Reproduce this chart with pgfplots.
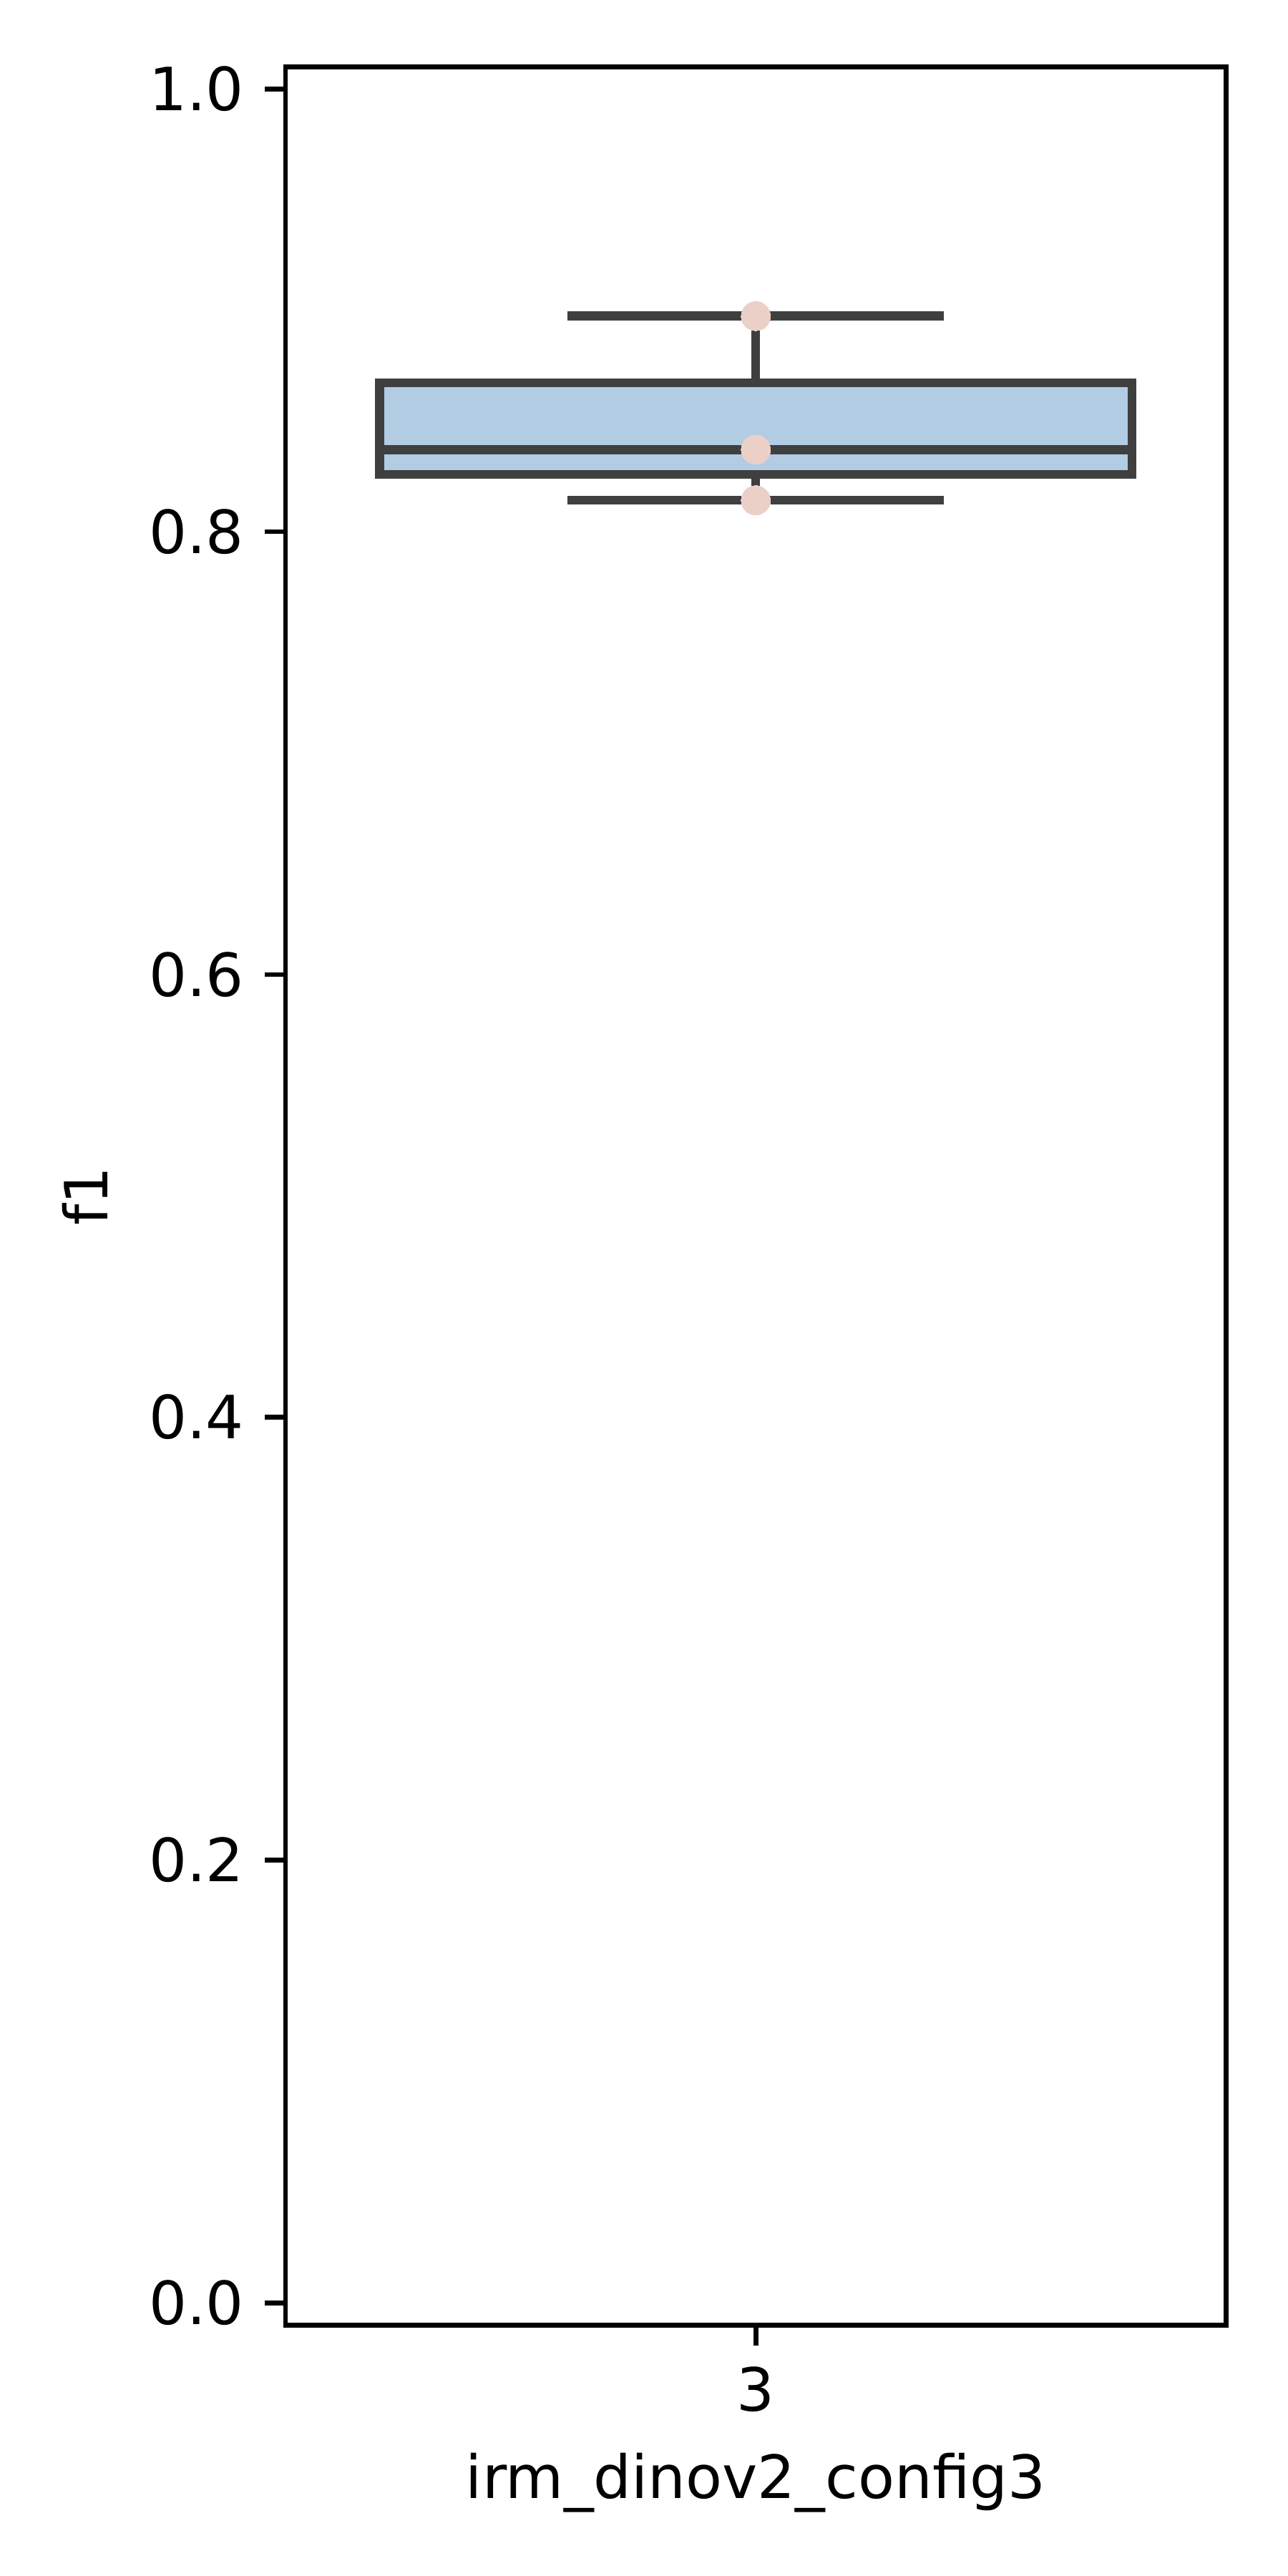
\documentclass[border=0pt]{standalone}
\usepackage{fontspec}
\setmainfont{DejaVu Sans}
\usepackage{pgfplots}
\pgfplotsset{compat=1.18}
\definecolor{boxfill}{RGB}{178,204,228}
\definecolor{boxline}{RGB}{63,63,63}
\definecolor{dotc}{RGB}{235,208,200}
\begin{document}
\begin{tikzpicture}
\path[use as bounding box] (0,0) rectangle (216pt,432pt);
\begin{axis}[
  at={(47.9pt,42.1pt)}, anchor=south west,
  scale only axis, width=157.7pt, height=378.7pt,
  xmin=-0.5, xmax=0.5, ymin=-0.01, ymax=1.01,
  xtick={0}, xticklabels={3},
  ytick={0,0.2,0.4,0.6,0.8,1.0},
  yticklabel style={/pgf/number format/.cd, fixed, fixed zerofill, precision=1},
  /pgf/number format/assume math mode=true,
  tick align=outside, major tick length=3.5pt,
  tick style={black, line width=0.8pt},
  xtick pos=bottom, ytick pos=left,
  axis line style={line width=0.8pt},
  tick label style={font=\fontsize{10}{12}\selectfont},
  label style={font=\fontsize{10}{12}\selectfont},
  xlabel={irm\_dinov2\_config3},
  ylabel={f1},
  clip=false,
]
% whiskers (drawn first, box over them)
\addplot[boxline, line width=1.5pt] coordinates {(0,0.8672) (0,0.8974)};
\addplot[boxline, line width=1.5pt] coordinates {(0,0.8258) (0,0.8142)};
\addplot[boxline, line width=1.5pt] coordinates {(-0.2,0.8974) (0.2,0.8974)};
\addplot[boxline, line width=1.5pt] coordinates {(-0.2,0.8142) (0.2,0.8142)};
% box: Q1 0.8258, Q3 0.8672
\addplot[fill=boxfill, draw=boxline, line width=1.5pt] coordinates
  {(-0.4,0.8258) (0.4,0.8258) (0.4,0.8672) (-0.4,0.8672)} -- cycle;
% median
\addplot[boxline, line width=1.5pt] coordinates {(-0.4,0.8371) (0.4,0.8371)};
% data points
\addplot[dotc, only marks, mark=*, mark size=2.45pt, mark options={fill=dotc, draw=dotc, line width=0pt}]
  coordinates {(0,0.8974) (0,0.8371) (0,0.8142)};
\end{axis}
\end{tikzpicture}
\end{document}
